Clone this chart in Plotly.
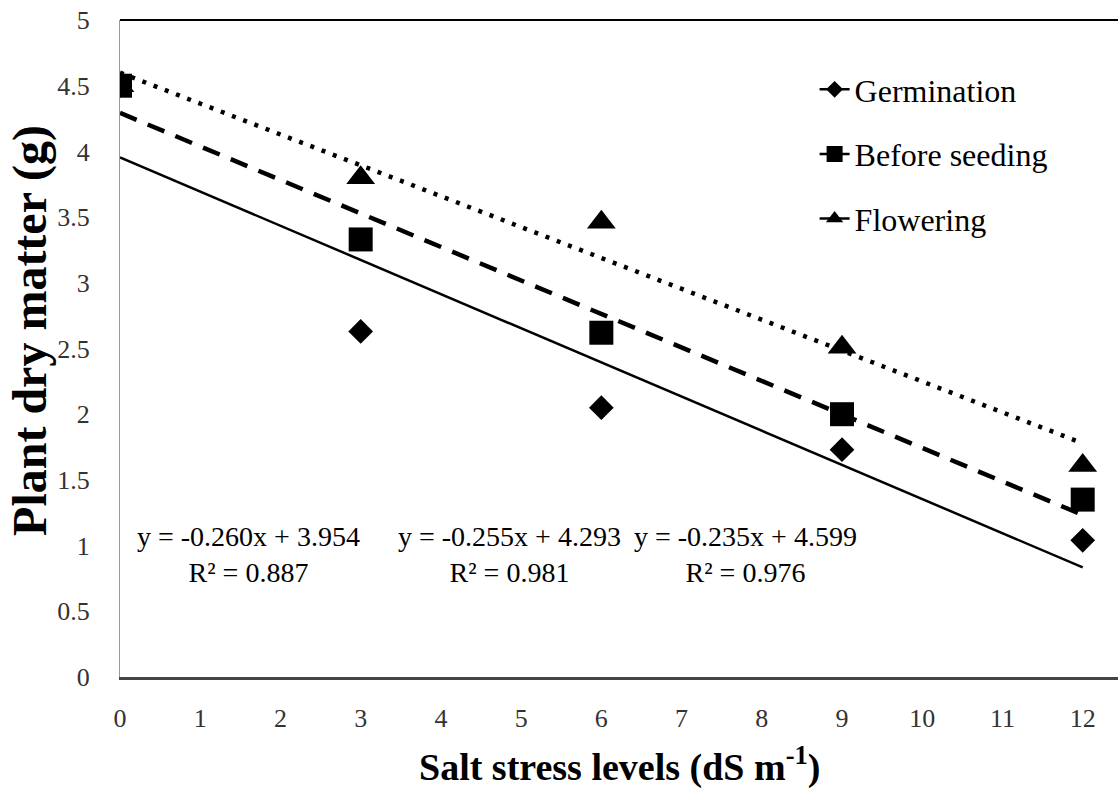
import plotly.graph_objects as go

# ---- data ----
salt_levels = [0, 3, 6, 9, 12]
germination = [4.50, 2.63, 2.05, 1.73, 1.04]
before_seeding = [4.50, 3.33, 2.62, 2.00, 1.35]
flowering = [4.50, 3.80, 3.46, 2.51, 1.61]

series_names = ["Germination", "Before seeding", "Flowering"]
slopes = [-0.260, -0.255, -0.235]
intercepts = [3.954, 4.293, 4.599]
r_squared = [0.887, 0.981, 0.976]
trend_x = [0, 12]

x_ticks = list(range(0, 13))
y_ticks = [0, 0.5, 1, 1.5, 2, 2.5, 3, 3.5, 4, 4.5, 5]

# annotation anchor positions for the equations (data coords)
eq_pos_x = [1.6, 4.85, 7.8]
eq_pos_y = [0.93, 0.93, 0.93]

FONT = "Liberation Serif, Times New Roman, serif"

series_vals = [germination, before_seeding, flowering]
symbols = ["diamond", "square", "triangle-up"]
sizes = [19, 24, 25]
trend_styles = [
    dict(color="black", width=2.5, dash="solid"),
    dict(color="black", width=4.5, dash="18px,12px"),
    dict(color="black", width=4.5, dash="4px,8px"),
]

fig = go.Figure()

# trend lines
for i in range(3):
    ty = [slopes[i] * x + intercepts[i] for x in trend_x]
    fig.add_trace(go.Scatter(x=trend_x, y=ty, mode="lines", line=trend_styles[i],
                             showlegend=False, hoverinfo="skip"))

# data markers (square drawn last so it sits on top at x=0)
for i in [2, 0, 1]:
    fig.add_trace(go.Scatter(x=salt_levels, y=series_vals[i], mode="markers",
                             marker=dict(symbol=symbols[i], size=sizes[i], color="black"),
                             showlegend=False, name=series_names[i]))

# legend entries
legend_sizes = [13, 16, 15]
for i in range(3):
    fig.add_trace(go.Scatter(x=[None], y=[None], mode="lines+markers", name=series_names[i],
                             line=dict(color="black", width=2.5),
                             marker=dict(symbol=symbols[i], size=legend_sizes[i], color="black"),
                             legendgroup=f"g{i}", showlegend=True))

# equations
for i in range(3):
    fig.add_annotation(x=eq_pos_x[i], y=eq_pos_y[i], xref="x", yref="y",
                       text=f"y = {slopes[i]:.3f}x + {intercepts[i]:.3f}<br>R² = {r_squared[i]:.3f}",
                       showarrow=False, align="center",
                       font=dict(family=FONT, size=28, color="black"))

# y axis title (positioned like the reference)
fig.add_annotation(x=-0.09, y=0.527, xref="paper", yref="paper",
                   xanchor="center", yanchor="middle",
                   text="<b>Plant dry matter (g)</b>", textangle=-90, showarrow=False,
                   font=dict(family=FONT, size=48, color="black"))

# x axis title
fig.add_annotation(x=0.5, y=-0.133, xref="paper", yref="paper",
                   xanchor="center", yanchor="middle",
                   text="<b>Salt stress levels (dS m<sup>-1</sup>)</b>", showarrow=False,
                   font=dict(family=FONT, size=38, color="black"))

# top border
fig.add_shape(type="line", xref="paper", yref="paper", x0=0, x1=1, y0=1, y1=1,
              line=dict(color="black", width=2))

fig.update_layout(
    width=1118, height=792,
    margin=dict(l=120, r=0, t=20, b=115, autoexpand=False),
    paper_bgcolor="white", plot_bgcolor="white",
    font=dict(family=FONT, color="#222"),
    showlegend=True,
    legend=dict(x=0.696, y=0.936, xanchor="left", yanchor="top",
                font=dict(family=FONT, size=32, color="black"),
                traceorder="grouped", tracegroupgap=20,
                bgcolor="rgba(0,0,0,0)"),
    xaxis=dict(range=[0, 12.44], tickvals=x_ticks, ticktext=[str(v) for v in x_ticks],
               showgrid=False, zeroline=False, showline=True, linecolor="#444", linewidth=2.5,
               ticks="", ticklabelstandoff=16, automargin=False,
               tickfont=dict(family=FONT, size=26, color="#333")),
    yaxis=dict(range=[0, 5], tickvals=y_ticks, ticktext=[("%g" % v) for v in y_ticks],
               showgrid=False, zeroline=False, showline=True, linecolor="#999", linewidth=1,
               ticks="", ticklabelstandoff=24, automargin=False,
               tickfont=dict(family=FONT, size=26, color="#333")),
)

fig.write_html("out.html", config={"displayModeBar": False},
               post_script="document.body.style.margin='0';document.body.style.overflow='hidden';")
